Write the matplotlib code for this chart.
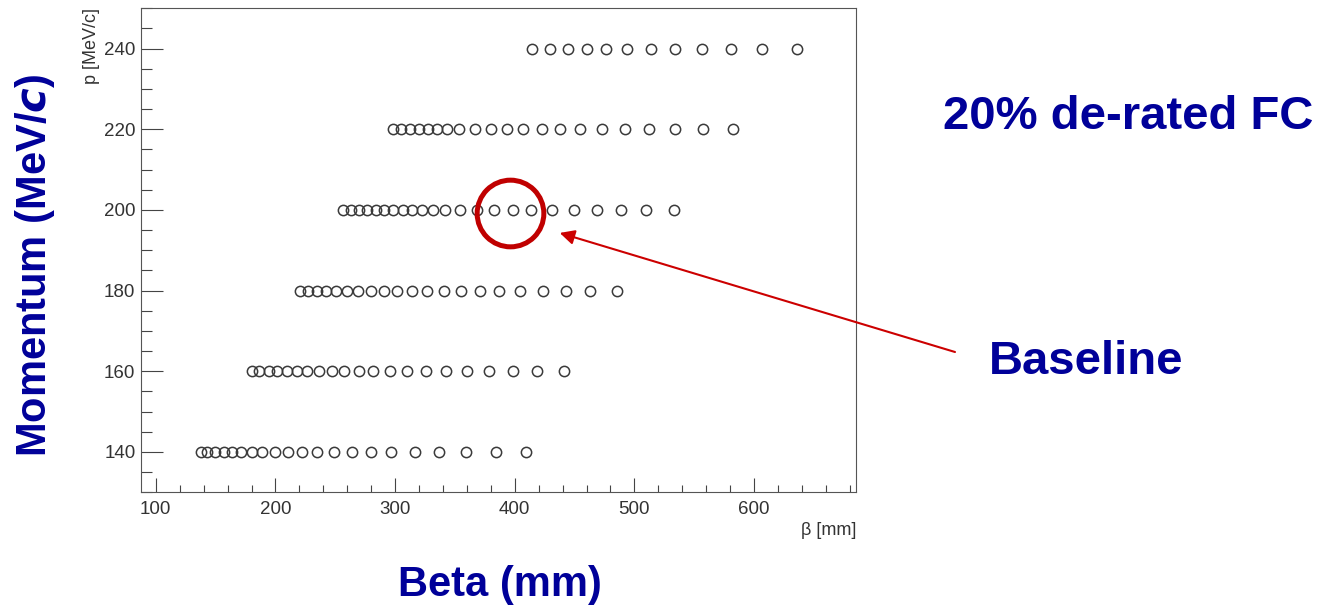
import matplotlib
matplotlib.use("Agg")
import matplotlib.pyplot as plt
from matplotlib.ticker import MultipleLocator

plt.rcParams['font.family'] = ['Liberation Sans', 'DejaVu Sans']

# beta scan points (mm) for each momentum (MeV/c)
beta_140 = [137.4, 143.2, 149.9, 156.6, 163.3, 171.6, 180.0, 188.9, 199.7, 210.6, 222.5,
            234.6, 248.7, 264.0, 279.9, 296.8, 316.4, 336.5, 358.9, 384.0, 409.3]
beta_160 = [180.3, 186.4, 194.2, 201.7, 209.5, 217.9, 226.5, 236.2, 247.1, 257.3, 269.6,
            281.8, 295.7, 309.9, 326.0, 342.2, 360.0, 378.1, 398.4, 419.0, 441.2]
beta_180 = [220.4, 227.0, 234.8, 242.6, 250.9, 259.6, 269.3, 279.9, 290.8, 301.6, 314.2,
            327.0, 341.2, 355.0, 370.6, 387.0, 404.3, 423.7, 442.7, 463.3, 485.5]
beta_200 = [256.8, 263.2, 269.9, 276.8, 283.8, 291.0, 298.5, 306.3, 314.4, 322.7, 331.9,
            341.7, 354.2, 368.8, 383.0, 398.2, 414.0, 431.0, 449.3, 468.7, 488.7, 509.6, 533.4]
beta_220 = [298.2, 304.9, 312.4, 319.9, 327.5, 335.0, 343.7, 353.3, 367.1, 380.1, 393.8,
            407.3, 422.4, 437.8, 454.6, 472.9, 492.3, 512.2, 533.8, 557.0, 582.5]
beta_240 = [414.5, 429.3, 444.6, 460.4, 476.3, 494.0, 513.6, 533.8, 556.6, 580.8, 606.8, 635.6]

momenta = [140, 160, 180, 200, 220, 240]
scans = [beta_140, beta_160, beta_180, beta_200, beta_220, beta_240]

# baseline point and where the arrow points
baseline = (396, 199.3)
arrow_tip = (437.6, 194.3)

navy = '#000099'
red = '#c00000'

fig = plt.figure(figsize=(13.31, 6.07), dpi=100)
ax = fig.add_axes([0.1059, 0.189, 0.5374, 0.7974])

for p, betas in zip(momenta, scans):
    ax.plot(betas, [p] * len(betas), 'o', ms=7.4, mfc='none', mec='#3a3a3a', mew=1.1)

ax.plot([baseline[0]], [baseline[1]], 'o', ms=48, mfc='none', mec=red, mew=3.6, clip_on=False)

ax.set_xlim(87.6, 685.4)
ax.set_ylim(130, 250)
ax.xaxis.set_major_locator(MultipleLocator(100))
ax.xaxis.set_minor_locator(MultipleLocator(20))
ax.yaxis.set_major_locator(MultipleLocator(20))
ax.yaxis.set_minor_locator(MultipleLocator(5))
ax.tick_params(axis='x', which='major', direction='in', length=10, width=0.8, color='#444444',
               labelsize=13.5, labelcolor='#333333', pad=6)
ax.tick_params(axis='x', which='minor', direction='in', length=5, width=0.8, color='#444444')
ax.tick_params(axis='y', which='major', direction='in', length=16, width=0.8, color='#444444',
               labelsize=13.5, labelcolor='#333333', pad=4)
ax.tick_params(axis='y', which='minor', direction='in', length=7.7, width=0.8, color='#444444')
for s in ax.spines.values():
    s.set_linewidth(0.8)
    s.set_color('#555555')

ax.set_xlabel(u'\u03b2 [mm]', fontsize=13, color='#333333', loc='right', labelpad=3)
ax.set_ylabel('p [MeV/c]', fontsize=13, color='#333333', loc='top', labelpad=3)

# slide annotations
fig.text(35 / 1331, 1 - 266 / 607, 'Momentum (MeV/$\\mathbfit{c}$)', rotation=90, fontsize=30,
         fontweight='bold', color=navy, ha='center', va='center')
fig.text(500 / 1331, 1 - 585 / 607, 'Beta (mm)', fontsize=30, fontweight='bold', color=navy,
         ha='center', va='center')
fig.text(1128 / 1331, 1 - 117 / 607, '20% de-rated FC', fontsize=34, fontweight='bold',
         color=navy, ha='center', va='center')
fig.text(1086 / 1331, 1 - 362 / 607, 'Baseline', fontsize=34, fontweight='bold', color=navy,
         ha='center', va='center')

ax.annotate('', xy=arrow_tip, xycoords='data', xytext=(955 / 1331, 1 - 352 / 607),
            textcoords='figure fraction', annotation_clip=False,
            arrowprops=dict(arrowstyle='-|>', color='#cc0000', lw=1.5, mutation_scale=22,
                            shrinkA=0, shrinkB=0))

fig.savefig('out.png', dpi=100)
